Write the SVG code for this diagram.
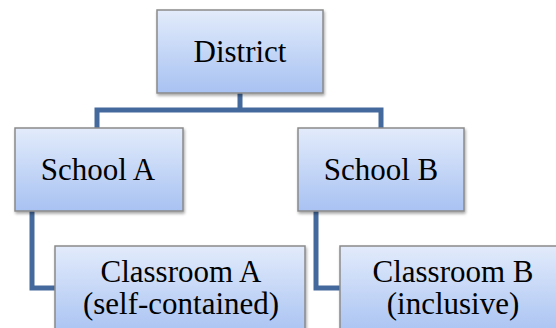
<svg xmlns="http://www.w3.org/2000/svg" width="556" height="328" viewBox="0 0 556 328">
<defs>
<linearGradient id="g" x1="0" y1="0" x2="0" y2="1">
<stop offset="0" stop-color="#e2ebfb"/>
<stop offset="1" stop-color="#a8c2f2"/>
</linearGradient>
<filter id="sh" x="-10%" y="-10%" width="125%" height="130%">
<feGaussianBlur in="SourceAlpha" stdDeviation="1.5"/>
<feOffset dx="1" dy="2" result="b"/>
<feComponentTransfer><feFuncA type="linear" slope="0.35"/></feComponentTransfer>
<feMerge><feMergeNode/><feMergeNode in="SourceGraphic"/></feMerge>
</filter>
</defs>
<style>
.box{fill:url(#g);stroke:#8a8a8a;stroke-width:1.5;filter:url(#sh)}
.lbl{font-family:'Liberation Serif','Times New Roman',serif;font-size:31px;fill:#000;text-anchor:middle}
.c{fill:none;stroke:#44699c;stroke-width:5}
</style>
<rect width="556" height="328" fill="#fff"/>
<g id="connectors">
<path class="c" d="M240 93 V110 M97 128 V110 H381 V128"/>
<path class="c" d="M32 211 V288 H57"/>
<path class="c" d="M316 211 V288 H341"/>
</g>
<g id="district">
<rect class="box" x="157" y="10" width="166" height="83"/>
<text class="lbl" x="240" y="62">District</text>
</g>
<g id="schoolA">
<rect class="box" x="15" y="128" width="168" height="83"/>
<text class="lbl" x="98" y="180">School A</text>
</g>
<g id="schoolB">
<rect class="box" x="298" y="128" width="166" height="83"/>
<text class="lbl" x="381" y="180">School B</text>
</g>
<g id="classroomA">
<rect class="box" x="55" y="246" width="250" height="90"/>
<text class="lbl" x="181" y="282">Classroom A</text>
<text class="lbl" x="181" y="314">(self-contained)</text>
</g>
<g id="classroomB">
<rect class="box" x="340" y="246" width="230" height="90"/>
<text class="lbl" x="453" y="282">Classroom B</text>
<text class="lbl" x="453" y="314">(inclusive)</text>
</g>
</svg>
